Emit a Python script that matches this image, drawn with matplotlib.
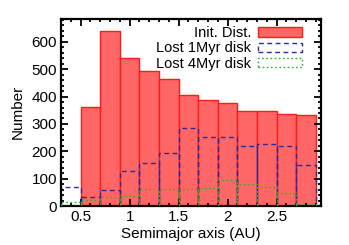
import numpy as np
import matplotlib as mpl
mpl.use('Agg')
import matplotlib.pyplot as plt
from matplotlib.ticker import MultipleLocator

mpl.rcParams.update({
    'font.family': ['Liberation Sans', 'DejaVu Sans'],
    'font.size': 11,
})

# bin left edges (AU), width 0.2
bin_left = [0.3, 0.5, 0.7, 0.9, 1.1, 1.3, 1.5, 1.7, 1.9, 2.1, 2.3, 2.5, 2.7]
init_dist = [0, 362, 640, 542, 492, 464, 407, 388, 375, 347, 347, 335, 333]
lost_1myr = [70, 34, 57, 127, 158, 194, 284, 251, 254, 220, 227, 220, 150]
lost_4myr = [14, 21, 34, 38, 61, 63, 63, 67, 94, 80, 68, 46, 6]
bin_width = 0.2

xticks = [0.5, 1.0, 1.5, 2.0, 2.5]
xticklabels = ['0.5', '1', '1.5', '2', '2.5']

fig = plt.figure(figsize=(3.49, 2.45), dpi=100)
ax = fig.add_axes([0.175, 0.159, 0.745, 0.765])

ax.bar(bin_left, init_dist, width=bin_width, align='edge',
       facecolor='#ff6666', edgecolor='#ff1a1a', lw=1.0,
       label='Init. Dist.', zorder=1)
ax.bar(bin_left, lost_1myr, width=bin_width, align='edge',
       fill=False, edgecolor='#2b2b9c', lw=1.0, ls=(0, (3.5, 2.5)),
       label='Lost 1Myr disk', zorder=2)
ax.bar(bin_left, lost_4myr, width=bin_width, align='edge',
       fill=False, edgecolor='#22bb22', lw=1.0, ls=(0, (1.2, 1.8)),
       label='Lost 4Myr disk', zorder=3)

ax.set_xlim(0.3, 2.955)
ax.set_ylim(0, 685)
ax.set_xticks(xticks)
ax.set_xticklabels(xticklabels)
ax.xaxis.set_minor_locator(MultipleLocator(0.1))
ax.yaxis.set_major_locator(MultipleLocator(100))
ax.yaxis.set_minor_locator(MultipleLocator(20))

ax.tick_params(which='both', direction='in', top=True, right=True, width=1.3)
ax.tick_params(which='major', length=5, labelsize=11, pad=3)
ax.tick_params(which='minor', length=2.5)
for sp in ax.spines.values():
    sp.set_linewidth(1.6)

ax.set_xlabel('Semimajor axis (AU)', fontsize=11, labelpad=2)
ax.set_ylabel('Number', fontsize=11, labelpad=5)

ax.legend(loc='upper right', bbox_to_anchor=(0.938, 0.975),
          frameon=False, markerfirst=False,
          fontsize=10.5, handlelength=3.0, handleheight=0.6,
          labelspacing=0.08, handletextpad=0.5, borderaxespad=0.0,
          borderpad=0.2)

fig.savefig('out.png', dpi=100)
